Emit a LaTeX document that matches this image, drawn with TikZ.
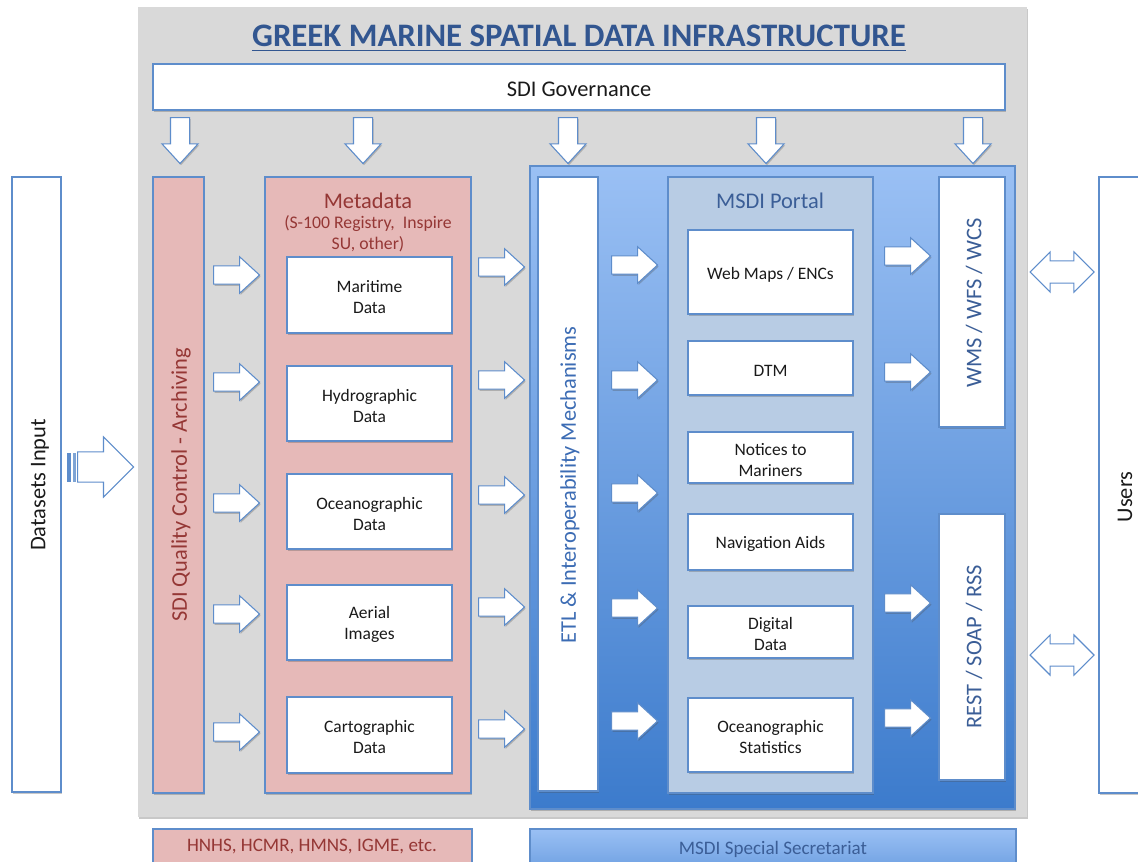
\documentclass[tikz,border=0pt]{standalone}
\usepackage{fontspec}
\setmainfont{Carlito}
\usetikzlibrary{shapes.arrows,shadows,fit}
\definecolor{bord}{HTML}{5E8DCB}
\definecolor{pinkc}{HTML}{E6B9B8}
\definecolor{greyc}{HTML}{D9D9D9}
\definecolor{bluetop}{HTML}{9AC0F4}
\definecolor{bluebot}{HTML}{3C7BCC}
\definecolor{portalc}{HTML}{B8CCE4}
\definecolor{titlec}{HTML}{325690}
\definecolor{redtxt}{HTML}{953735}
\definecolor{etltxt}{HTML}{3C6CB4}
\definecolor{navytxt}{HTML}{3B5E97}
\definecolor{txt}{HTML}{1A1A1A}
\tikzset{
  box/.style={draw=bord, line width=0.8pt, inner sep=0pt},
  shad/.style={drop shadow={shadow xshift=0.8pt, shadow yshift=-1.2pt, opacity=0.3, fill=black!70}},
  whitebox/.style={box, fill=white, shad},
  pinkbox/.style={box, fill=pinkc, shad},
  lbl/.style={font=\fontsize{16.8}{20}\selectfont, inner sep=0pt},
  smalltxt/.style={font=\fontsize{13.1}{15.75}\selectfont, align=center, text=txt, inner sep=0pt},
  rarrow/.style={single arrow, draw=bord, fill=white, line width=0.8pt, inner xsep=0pt,
    inner ysep=6.5pt, minimum height=34.5pt, single arrow head extend=6.75pt,
    single arrow tip angle=85, shad, anchor=tail},
  darrow/.style={single arrow, draw=bord, fill=white, line width=0.8pt, shape border rotate=270,
    inner xsep=6.75pt, inner ysep=0pt, minimum height=34.5pt, single arrow head extend=6.4pt,
    single arrow tip angle=85, shad, anchor=tail},
  dblarrow/.style={double arrow, draw=bord, fill=white, line width=0.8pt, inner xsep=0pt,
    inner ysep=7.9pt, minimum height=48pt, double arrow head extend=6.75pt, double arrow tip angle=90},
  bigarrow/.style={single arrow, draw=bord, fill=white, line width=0.8pt, inner xsep=0pt,
    inner ysep=10.9pt, minimum height=42pt, single arrow head extend=11.25pt,
    single arrow tip angle=90, anchor=tail},
}
\begin{document}
\begin{tikzpicture}[x=0.75pt,y=-0.75pt]
\useasboundingbox (0,0) rectangle (1138,861);
\fill[white] (0,0) rectangle (1138,861);

% grey background
\node[fill=greyc, inner sep=0pt, shad, fit={(138,7)(1027,817)}] (bg) {};
\node[font=\fontsize{24.6}{28}\selectfont\bfseries, text=titlec, inner sep=0pt, anchor=base] (title) at (579,46) {GREEK MARINE SPATIAL DATA INFRASTRUCTURE};
\draw[titlec, line width=1.1pt] ([yshift=-3.2pt]title.base west) -- ([yshift=-3.2pt]title.base east);

% governance
\node[whitebox, fit={(153,64)(1005,110)}] (gov) {};
\node[lbl, text=txt] (govt) at (579,89) {SDI Governance};

% outer side boxes
\node[whitebox, fit={(12,177)(61,792)}] (data) {};
\node[lbl, rotate=90, text=txt] (datat) at (40,485) {Datasets Input};
\node[whitebox, fit={(1099,177)(1160,793)}] (users) {};
\node[lbl, rotate=90, text=txt] (userst) at (1125,497) {Users};

% QC and metadata
\node[pinkbox, fit={(153,177)(204,793)}] (qc) {};
\node[lbl, rotate=90, text=redtxt] (qct) at (181,485) {SDI Quality Control - Archiving};
\node[pinkbox, fit={(265,177)(471,793)}] (meta) {};
\node[lbl, text=redtxt] (metat) at (368,201) {Metadata};
\node[font=\fontsize{13.3}{15.75}\selectfont, align=center, text=redtxt, inner sep=0pt] (metas) at (368,234) {(S-100 Registry,\ \ Inspire\\SU, other)};

\node[whitebox, fit={(287,257)(452,333)}] (m1) {};
\node[whitebox, fit={(287,366)(452,441)}] (m2) {};
\node[whitebox, fit={(287,474)(452,549)}] (m3) {};
\node[whitebox, fit={(287,585)(452,660)}] (m4) {};
\node[whitebox, fit={(287,697)(452,773)}] (m5) {};
\node[smalltxt] (m1t) at ([yshift=-1.8pt]m1.center) {Maritime\\Data};
\node[smalltxt] (m2t) at ([yshift=-1.8pt]m2.center) {Hydrographic\\Data};
\node[smalltxt] (m3t) at ([yshift=-1.8pt]m3.center) {Oceanographic\\Data};
\node[smalltxt] (m4t) at ([yshift=-1.8pt]m4.center) {Aerial\\Images};
\node[smalltxt] (m5t) at ([yshift=-1.8pt]m5.center) {Cartographic\\Data};

% blue block
\node[box, top color=bluetop, bottom color=bluebot, shad, fit={(530,166)(1015,809)}] (blue) {};
\node[whitebox, fit={(538,177)(598,791)}] (etl) {};
\node[lbl, rotate=90, text=etltxt] (etlt) at (570,485) {ETL \& Interoperability Mechanisms};
\node[box, fill=portalc, shad, fit={(668,177)(873,793)}] (portal) {};
\node[lbl, text=navytxt] (portalt) at (770,201) {MSDI Portal};
\node[whitebox, fit={(688,230)(853,314)}] (p1) {};
\node[whitebox, fit={(688,341)(853,395)}] (p2) {};
\node[whitebox, fit={(688,432)(853,483)}] (p3) {};
\node[whitebox, fit={(688,514)(853,570)}] (p4) {};
\node[whitebox, fit={(688,606)(853,658)}] (p5) {};
\node[whitebox, fit={(688,698)(853,772)}] (p6) {};
\node[smalltxt] (p1t) at ([yshift=-1.8pt]p1.center) {Web Maps / ENCs};
\node[smalltxt] (p2t) at ([yshift=-1.8pt]p2.center) {DTM};
\node[smalltxt] (p3t) at ([yshift=-1.8pt]p3.center) {Notices to\\Mariners};
\node[smalltxt] (p4t) at ([yshift=-1.8pt]p4.center) {Navigation Aids};
\node[smalltxt] (p5t) at ([yshift=-1.8pt]p5.center) {Digital\\Data};
\node[smalltxt] (p6t) at ([yshift=-1.8pt]p6.center) {Oceanographic\\Statistics};
\node[whitebox, fit={(939,177)(1005,427)}] (wms) {};
\node[lbl, rotate=90, text=navytxt] (wmst) at (974,303) {WMS / WFS / WCS};
\node[whitebox, fit={(939,514)(1005,780)}] (rest) {};
\node[lbl, rotate=90, text=navytxt] (restt) at (974,647) {REST / SOAP / RSS};

% bottom boxes
\node[pinkbox, fit={(153,829)(472,880)}] (org) {};
\node[font=\fontsize{14.3}{17}\selectfont, text=redtxt, inner sep=0pt] (orgt) at (312,847) {HNHS, HCMR, HMNS, IGME, etc.};
\node[box, top color=bluetop, bottom color=bluebot!80!bluetop, shad, fit={(530,829)(1016,900)}] (sec) {};
\node[font=\fontsize{14.3}{17}\selectfont, text=navytxt, inner sep=0pt] (sect) at (773,849) {MSDI Special Secretariat};

% down arrows from governance
\foreach \x [count=\i] in {180,363,568,766,973}
  \node[darrow] (d\i) at (\x,117) {};

% right arrows
\foreach \y [count=\i] in {275,382,503,614,732}
  \node[rarrow] (ra\i) at (213,\y) {};
\foreach \y [count=\i] in {267,380,495,607,729}
  \node[rarrow] (rb\i) at (478,\y) {};
\foreach \y [count=\i] in {265,380,493,608,721}
  \node[rarrow] (rc\i) at (611,\y) {};
\foreach \y [count=\i] in {256,372,603,718}
  \node[rarrow] (rd\i) at (884,\y) {};

% double arrows
\node[dblarrow] (u1) at (1062,272) {};
\node[dblarrow] (u2) at (1062,655) {};

% big input arrow
\node[bigarrow] (inarrow) at (77,467) {};
\fill[bord] (66.5,453) rectangle (71,482);
\fill[bord!80] (72.5,453) rectangle (75.5,482);
\end{tikzpicture}
\end{document}
